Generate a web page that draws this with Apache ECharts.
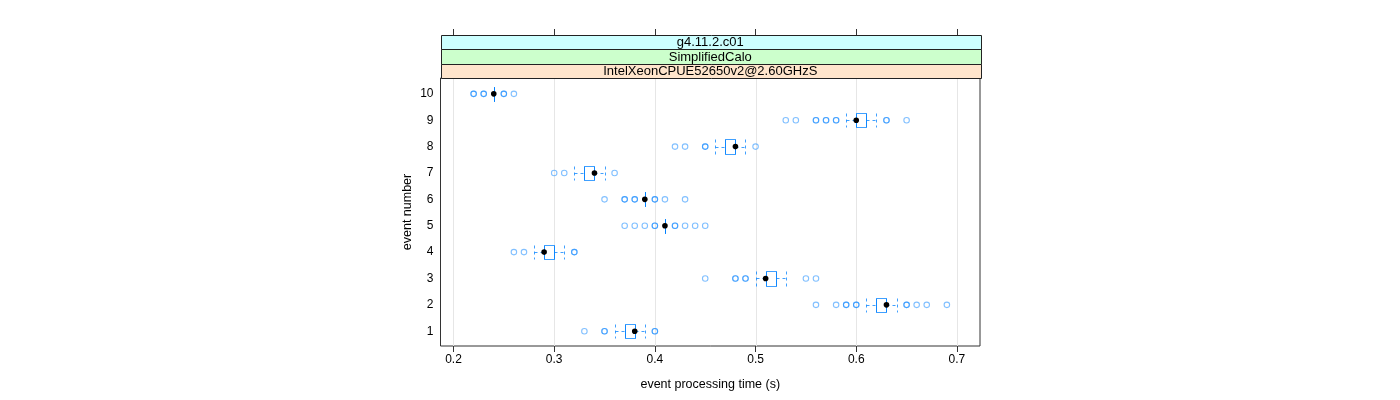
<!DOCTYPE html>
<html>
<head>
<meta charset="utf-8">
<script src="https://cdn.jsdelivr.net/npm/echarts@6/dist/echarts.min.js"></script>
<style>
html,body{margin:0;padding:0;background:#fff;}
#chart{width:1400px;height:400px;}
</style>
</head>
<body>
<div id="chart"></div>
<script>
// ---- data ----
const eventNumbers = [1, 2, 3, 4, 5, 6, 7, 8, 9, 10];
const whiskerLow  = [0.36, 0.61, 0.50, 0.28, 0.41, 0.39, 0.32, 0.46, 0.59, 0.24];
const q1          = [0.37, 0.62, 0.51, 0.29, 0.41, 0.39, 0.33, 0.47, 0.60, 0.24];
const median      = [0.38, 0.63, 0.51, 0.29, 0.41, 0.39, 0.34, 0.48, 0.60, 0.24];
const q3          = [0.38, 0.63, 0.52, 0.30, 0.41, 0.39, 0.34, 0.48, 0.61, 0.24];
const whiskerHigh = [0.39, 0.64, 0.53, 0.31, 0.41, 0.39, 0.35, 0.49, 0.62, 0.24];
const outliers = [
  [0.33, 0.35, 0.35, 0.40, 0.40],
  [0.56, 0.58, 0.59, 0.59, 0.60, 0.60, 0.65, 0.65, 0.66, 0.67, 0.69],
  [0.45, 0.48, 0.48, 0.49, 0.49, 0.55, 0.56],
  [0.26, 0.27, 0.32, 0.32],
  [0.37, 0.38, 0.39, 0.40, 0.40, 0.42, 0.42, 0.43, 0.44, 0.45],
  [0.35, 0.37, 0.37, 0.38, 0.38, 0.40, 0.40, 0.41, 0.43],
  [0.30, 0.31, 0.36],
  [0.42, 0.43, 0.45, 0.45, 0.50],
  [0.53, 0.54, 0.56, 0.56, 0.57, 0.57, 0.58, 0.58, 0.63, 0.63, 0.65],
  [0.22, 0.22, 0.23, 0.23, 0.25, 0.25, 0.26]
];
const xTicks = [0.2, 0.3, 0.4, 0.5, 0.6, 0.7];
const stripLabels = ['g4.11.2.c01', 'SimplifiedCalo', 'IntelXeonCPUE52650v2@2.60GHzS'];
const stripColors = ['#CCFFFF', '#CCFFCC', '#FFE5CC'];
const xTitle = 'event processing time (s)';
const yTitle = 'event number';

// ---- layout ----
const G = {left: 440.5, right: 420, top: 78, bottom: 54};
const X_MIN = 0.1871, X_MAX = 0.7229;
const Y_MIN = 0.44, Y_MAX = 10.6;
const FONT = 'Liberation Sans, Arial, sans-serif';

const boxData = eventNumbers.map((e, i) => [e, whiskerLow[i], q1[i], median[i], q3[i], whiskerHigh[i]]);
const outlierData = [];
eventNumbers.forEach((e, i) => outliers[i].forEach(v => outlierData.push([v, e])));

const chart = echarts.init(document.getElementById('chart'), null, {renderer: 'canvas'});

function px(v) { return Math.round(v) + 0.5; }

const stripH = 14.33;
const graphics = [];
const plotW = 1400 - G.left - G.right;
stripLabels.forEach((lab, i) => {
  const y0 = 35 + i * stripH;
  graphics.push({
    type: 'rect', silent: true, z: 100,
    shape: {x: px(G.left), y: Math.round(y0) + 0.5, width: Math.round(plotW), height: Math.round(y0 + stripH) - Math.round(y0)},
    style: {fill: stripColors[i], stroke: '#222', lineWidth: 1}
  });
  graphics.push({
    type: 'text', silent: true, z: 101,
    x: G.left + plotW / 2, y: y0 + stripH / 2 + 0.5,
    style: {text: lab, fill: '#000', font: '13px ' + FONT, align: 'center', verticalAlign: 'middle'}
  });
});

const option = {
  animation: false,
  backgroundColor: '#fff',
  grid: {left: G.left, right: G.right, top: G.top, bottom: G.bottom, show: true, borderColor: '#333', borderWidth: 1, backgroundColor: 'transparent'},
  xAxis: [{
    type: 'value', min: X_MIN, max: X_MAX, position: 'bottom',
    name: xTitle, nameLocation: 'middle', nameGap: 32,
    nameTextStyle: {color: '#000', fontSize: 12.5, fontFamily: FONT},
    axisLine: {show: false},
    axisTick: {show: true, inside: false, length: 6, customValues: xTicks, lineStyle: {color: '#333'}},
    axisLabel: {show: true, customValues: xTicks, color: '#000', fontSize: 12, fontFamily: FONT, margin: 8, formatter: v => String(v)},
    splitLine: {show: false}
  }, {
    type: 'value', min: X_MIN, max: X_MAX, position: 'top', offset: 43,
    axisLine: {show: false},
    axisTick: {show: true, inside: false, length: 6, customValues: xTicks, lineStyle: {color: '#333'}},
    axisLabel: {show: false, customValues: xTicks},
    splitLine: {show: false}
  }],
  yAxis: {
    type: 'value', min: Y_MIN, max: Y_MAX,
    name: yTitle, nameLocation: 'middle', nameGap: 26, nameRotate: 90,
    nameTextStyle: {color: '#000', fontSize: 12.5, fontFamily: FONT},
    axisLine: {show: false},
    axisTick: {show: false},
    axisLabel: {show: true, customValues: eventNumbers, color: '#000', fontSize: 12, fontFamily: FONT, margin: 7},
    splitLine: {show: false}
  },
  graphic: graphics,
  series: [{
    type: 'custom', name: 'grid', silent: true, z: 1,
    data: xTicks.map(v => [v]),
    encode: {x: 0},
    renderItem: (params, api) => {
      const cs = params.coordSys;
      const x = px(api.coord([api.value(0), Y_MIN])[0]);
      return {type: 'line', shape: {x1: x, y1: cs.y, x2: x, y2: cs.y + cs.height}, style: {stroke: '#e6e6e6', lineWidth: 1}};
    }
  }, {
    type: 'scatter', name: 'outliers', z: 2, silent: true,
    data: outlierData,
    symbol: 'circle', symbolSize: 5.5,
    itemStyle: {color: 'rgba(255,255,255,0)', borderColor: 'rgba(0,128,255,0.62)', borderWidth: 1.1}
  }, {
    type: 'custom', name: 'box', z: 3, silent: true,
    data: boxData,
    encode: {x: [1, 2, 3, 4, 5], y: 0},
    renderItem: (params, api) => {
      const y = api.value(0);
      const cLo = api.coord([api.value(1), y]);
      const cA = api.coord([api.value(2), y]);
      const cM = api.coord([api.value(3), y]);
      const cB = api.coord([api.value(4), y]);
      const cHi = api.coord([api.value(5), y]);
      const h = api.size([0, 1])[1] * 0.27;
      const cy = Math.round(cA[1]) + 0.5;
      const top = Math.round(cA[1] - h) + 0.5, bot = Math.round(cA[1] + h) + 0.5;
      const xLo = px(cLo[0]), xA = px(cA[0]), xB = px(cB[0]), xHi = px(cHi[0]);
      const dash = {stroke: 'rgba(0,128,255,0.75)', lineWidth: 1, lineDash: [3, 3]};
      const solid = {stroke: 'rgba(0,128,255,0.75)', lineWidth: 1, fill: null};
      return {
        type: 'group',
        children: [
          {type: 'line', shape: {x1: xLo, y1: cy, x2: xA, y2: cy}, style: dash},
          {type: 'line', shape: {x1: xB, y1: cy, x2: xHi, y2: cy}, style: dash},
          {type: 'line', shape: {x1: xLo, y1: top, x2: xLo, y2: bot}, style: dash},
          {type: 'line', shape: {x1: xHi, y1: top, x2: xHi, y2: bot}, style: dash},
          {type: 'rect', shape: {x: xA, y: top, width: xB - xA, height: bot - top}, style: solid},
          {type: 'line', shape: {x1: xA, y1: top, x2: xA, y2: bot}, style: solid},
          {type: 'line', shape: {x1: xB, y1: top, x2: xB, y2: bot}, style: solid},
          {type: 'circle', shape: {cx: cM[0], cy: cM[1], r: 2.8}, style: {fill: '#000'}}
        ]
      };
    }
  }]
};
chart.setOption(option);
</script>
</body>
</html>
